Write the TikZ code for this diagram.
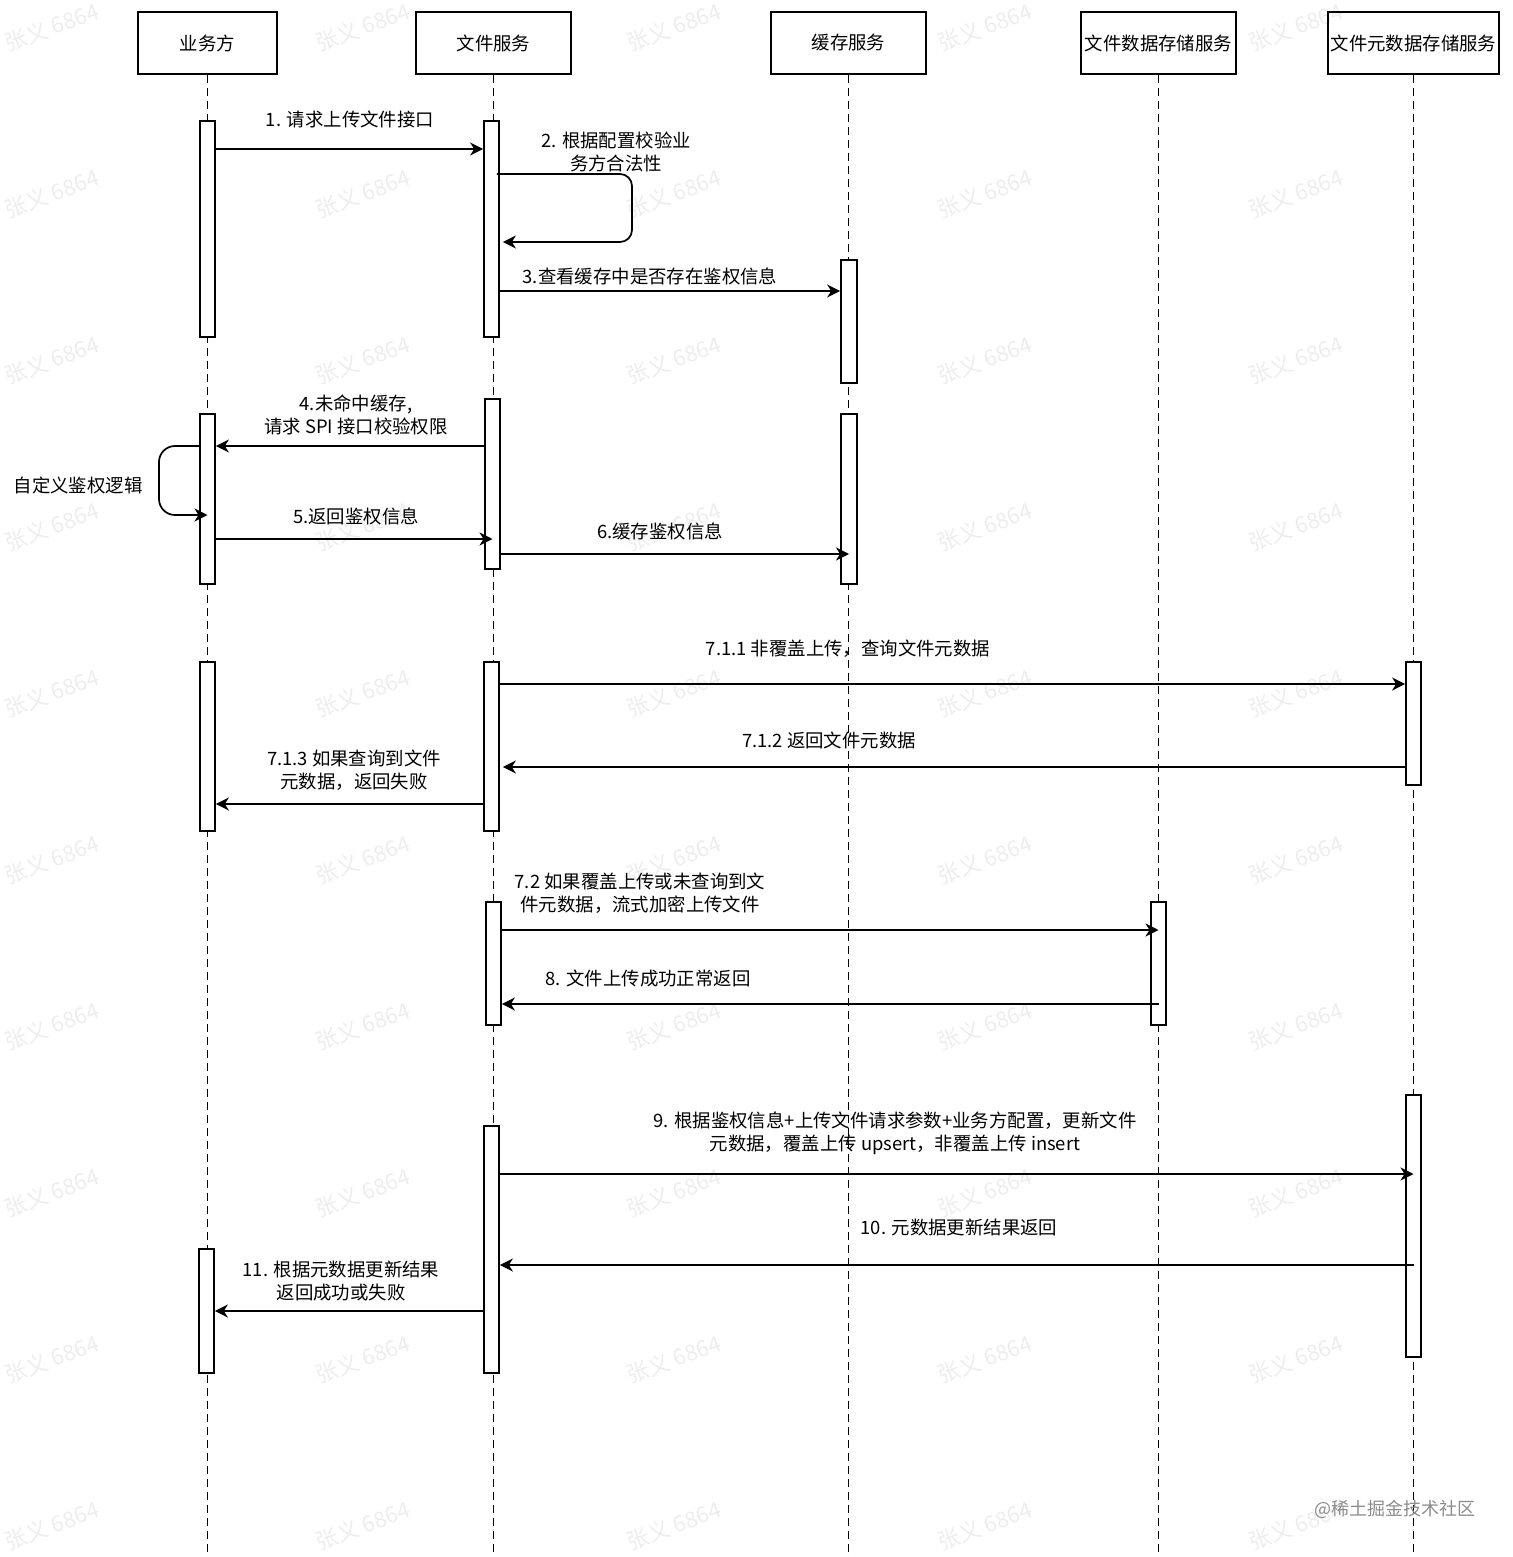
\documentclass[tikz,border=0pt]{standalone}
\usepackage{fontspec}
\setmainfont{Noto Sans CJK SC}
\usetikzlibrary{arrows.meta,fit,calc}
\begin{document}
\begin{tikzpicture}[x=0.5pt,y=-0.5pt,
  every node/.style={font=\fontsize{9.2}{11.5}\selectfont, inner sep=0pt},
  head/.style={draw, line width=0.9pt, fill=white, inner sep=0pt, minimum height=31pt},
  bar/.style={draw, line width=0.85pt, fill=white, inner sep=0pt},
  life/.style={dash pattern=on 4pt off 2.5pt, line width=0.7pt},
  msg/.style={line width=0.85pt, -{Stealth[length=6.5pt,width=6.5pt,inset=2pt]}},
  lbl/.style={align=center},
  wm/.style={text=black, text opacity=0.07, rotate=20, font=\fontsize{11}{11}\selectfont},
  brand/.style={text=black!45, font=\fontsize{9}{9}\selectfont}
]
\useasboundingbox (0,0) rectangle (1512,1557);
\fill[white] (0,0) rectangle (1512,1557);

% heads
\node[head, minimum width=69.5pt] (h1) at (207.5,43) {业务方};
\node[head, minimum width=77.5pt] (h2) at (493.5,43) {文件服务};
\node[head, minimum width=77.5pt] (h3) at (848.5,43) {缓存服务};
\node[head, minimum width=77.5pt] (h4) at (1158.5,43) {文件数据存储服务};
\node[head, minimum width=85.5pt] (h5) at (1413.5,43) {文件元数据存储服务};

% lifelines
\coordinate (e1) at (207.5,1557);
\coordinate (e2) at (493.5,1557);
\coordinate (e3) at (848.5,1557);
\coordinate (e4) at (1158.5,1557);
\coordinate (e5) at (1413.5,1557);
\foreach \k in {1,...,5} \draw[life] (h\k.south) -- (e\k);

% activation bars
\node[bar, fit={(200,121) (215,337)}] (b1) {};
\node[bar, fit={(200,414) (215,584)}] (b2) {};
\node[bar, fit={(200,662) (215,831)}] (b3) {};
\node[bar, fit={(199,1249) (214,1373)}] (b4) {};
\node[bar, fit={(484,121) (499,337)}] (f1) {};
\node[bar, fit={(485,399) (500,569)}] (f2) {};
\node[bar, fit={(484,662) (499,831)}] (f3) {};
\node[bar, fit={(486,902) (501,1025)}] (f4) {};
\node[bar, fit={(484,1126) (499,1373)}] (f5) {};
\node[bar, fit={(841,260) (857,383)}] (c1) {};
\node[bar, fit={(841,414) (857,584)}] (c2) {};
\node[bar, fit={(1151,902) (1166,1025)}] (d1) {};
\node[bar, fit={(1406,662) (1421,785)}] (m1) {};
\node[bar, fit={(1406,1095) (1421,1357)}] (m2) {};

% messages
\draw[msg] (b1.east |- 0,149) -- (f1.west |- 0,149);
\node[lbl] (l1) at (350,119) {1. 请求上传文件接口};

\draw[msg, rounded corners=6pt] ($(f1.east |- 0,174)+(-3,0)$) -- (632,174) -- (632,242) -- ($(f1.east |- 0,242)+(3,0)$);
\node[lbl] (l2) at (616,151.5) {2. 根据配置校验业\\务方合法性};

\draw[msg] (f1.east |- 0,291) -- (c1.west |- 0,291);
\node[lbl] (l3) at (650,276) {3.查看缓存中是否存在鉴权信息};

\draw[msg] (f2.west |- 0,446) -- (b2.east |- 0,446);
\node[lbl] (l4) at (356,414.5) {4.未命中缓存,\\请求 SPI 接口校验权限};

\draw[msg, rounded corners=8pt] (b2.west |- 0,446) -- (159,446) -- (159,515) -- (b2.center |- 0,515);
\node[lbl] (l4b) at (78,485) {自定义鉴权逻辑};

\draw[msg] (b2.east |- 0,539) -- (f2.center |- 0,539);
\node[lbl] (l5) at (356,516) {5.返回鉴权信息};

\draw[msg] (f2.east |- 0,554) -- (c2.center |- 0,554);
\node[lbl] (l6) at (660,531) {6.缓存鉴权信息};

\draw[msg] (f3.east |- 0,684) -- (m1.west |- 0,684);
\node[lbl] (l711) at (848,649) {7.1.1 非覆盖上传，查询文件元数据};

\draw[msg] (m1.west |- 0,767) -- ($(f3.east |- 0,767)+(3,0)$);
\node[lbl] (l712) at (829,740) {7.1.2 返回文件元数据};

\draw[msg] (f3.west |- 0,804) -- (b3.east |- 0,804);
\node[lbl] (l713) at (354,770.5) {7.1.3 如果查询到文件\\元数据，返回失败};

\draw[msg] (f4.east |- 0,930) -- (d1.center |- 0,930);
\node[lbl] (l72) at (640,893.5) {7.2 如果覆盖上传或未查询到文\\件元数据，流式加密上传文件};

\draw[msg] (d1.center |- 0,1004) -- (f4.east |- 0,1004);
\node[lbl] (l8) at (648,978) {8. 文件上传成功正常返回};

\draw[msg] (f5.east |- 0,1174) -- (m2.center |- 0,1174);
\node[lbl] (l9) at (895,1133.5) {9. 根据鉴权信息+上传文件请求参数+业务方配置，更新文件\\元数据，覆盖上传 upsert，非覆盖上传 insert};

\draw[msg] (m2.center |- 0,1265) -- (f5.east |- 0,1265);
\node[lbl] (l10) at (959,1227) {10. 元数据更新结果返回};

\draw[msg] (f5.west |- 0,1311) -- (b4.east |- 0,1311);
\node[lbl] (l11) at (341,1281.5) {11. 根据元数据更新结果\\返回成功或失败};

% watermarks
\foreach \i in {0,...,4} \foreach \j in {0,...,9}
  \node[wm] (wm-\i-\j) at ({52+311*\i},{27+166.5*\j}) {张义 6864};
\node[brand] (brand) at (1395,1509) {@稀土掘金技术社区};
\end{tikzpicture}
\end{document}
